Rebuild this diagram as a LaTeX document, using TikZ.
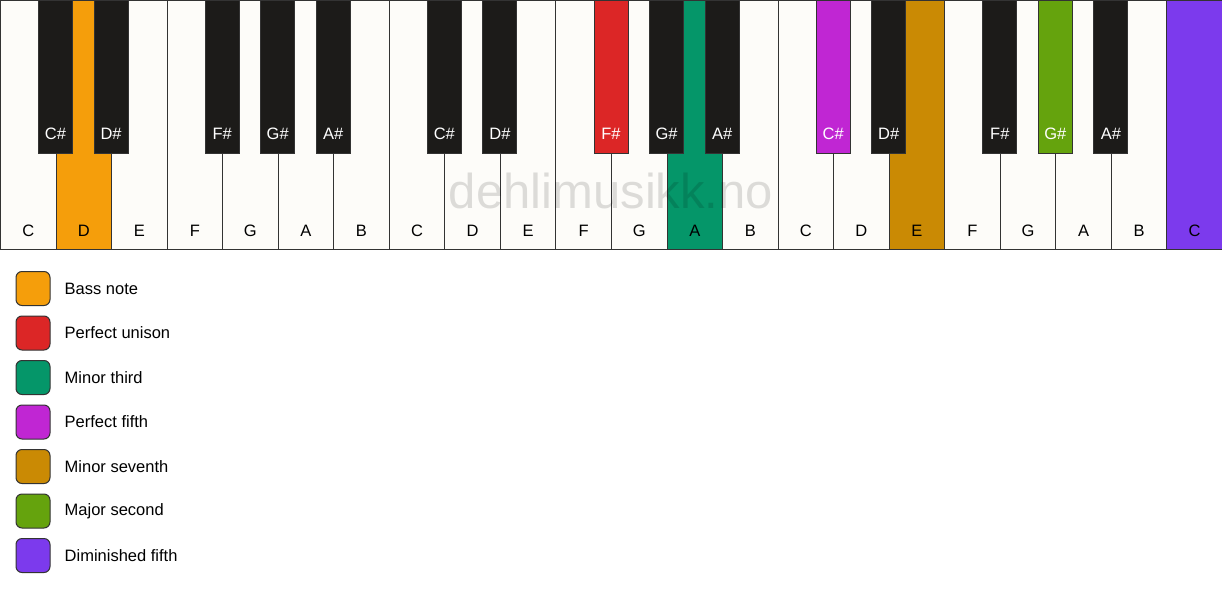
\documentclass[tikz,border=0pt]{standalone}
\usepackage{fontspec}
\setmainfont{Liberation Sans}
\usepackage{xcolor}
\usepackage{tikz}
\usetikzlibrary{positioning}
\definecolor{keyline}{HTML}{333333}
\definecolor{ivory}{HTML}{FDFCF9}
\definecolor{keyblack}{HTML}{1C1B19}
\definecolor{bass}{HTML}{F59E0B}
\definecolor{unison}{HTML}{DC2626}
\definecolor{minthird}{HTML}{059669}
\definecolor{perfifth}{HTML}{C026D3}
\definecolor{minseventh}{HTML}{CA8A04}
\definecolor{majsecond}{HTML}{65A30D}
\definecolor{dimfifth}{HTML}{7C3AED}
\tikzstyle{whitekey} = [rectangle, draw=keyline, line width=0.9pt, inner sep=0pt,
    minimum width=55.545pt, minimum height=249pt, anchor=north west]
\tikzstyle{blackkey} = [rectangle, draw=keyline, line width=0.9pt, inner sep=0pt,
    minimum width=34pt, minimum height=153pt, anchor=north]
\tikzstyle{whitename} = [font=\fontsize{16.5}{18}\selectfont, text=black]
\tikzstyle{blackname} = [font=\fontsize{16.5}{18}\selectfont, text=white]
\tikzstyle{legendbox} = [rectangle, draw=keyline, line width=1pt,
    rounded corners=6pt, minimum size=34pt]
\tikzstyle{legendtext} = [font=\fontsize{16.5}{18}\selectfont, inner sep=0pt,
    node distance=14pt]
\tikzstyle{watermark} = [font=\fontsize{49}{50}\selectfont, text=black,
    text opacity=0.13]

\begin{document}
\begin{tikzpicture}[x=1pt, y=-1pt]
    \useasboundingbox (0,0) rectangle (1222,594);
    % Place white keys
    \foreach \n/\c [count=\i from 0] in {C/ivory, D/bass, E/ivory, F/ivory,
        G/ivory, A/ivory, B/ivory, C/ivory, D/ivory, E/ivory, F/ivory, G/ivory,
        A/minthird, B/ivory, C/ivory, D/ivory, E/minseventh, F/ivory, G/ivory,
        A/ivory, B/ivory, C/dimfifth}
    {
        \node [whitekey, fill=\c] (w\i) at (\i*55.545, 0) {};
        \node [whitename] (wn\i) at ([yshift=19pt]w\i.south) {\n};
    }
    % Place black keys
    \foreach \n/\p/\c [count=\j] in {C\#/1/keyblack, D\#/2/keyblack,
        F\#/4/keyblack, G\#/5/keyblack, A\#/6/keyblack, C\#/8/keyblack,
        D\#/9/keyblack, F\#/11/unison, G\#/12/keyblack, A\#/13/keyblack,
        C\#/15/perfifth, D\#/16/keyblack, F\#/18/keyblack, G\#/19/majsecond,
        A\#/20/keyblack}
    {
        \node [blackkey, fill=\c] (b\j) at (\p*55.545, 0) {};
        \node [blackname] (bn\j) at ([yshift=20pt]b\j.south) {\n};
    }
    \node [watermark] (mark) at (611, 191) {dehlimusikk.no};
    % Legend
    \foreach \c/\t [count=\k from 0] in {bass/Bass note, unison/Perfect unison,
        minthird/Minor third, perfifth/Perfect fifth,
        minseventh/Minor seventh, majsecond/Major second,
        dimfifth/Diminished fifth}
    {
        \node [legendbox, fill=\c] (box\k) at (33, 288.5+\k*44.5) {};
        \node [legendtext, right=of box\k] (txt\k) {\t};
    }
\end{tikzpicture}
\end{document}
